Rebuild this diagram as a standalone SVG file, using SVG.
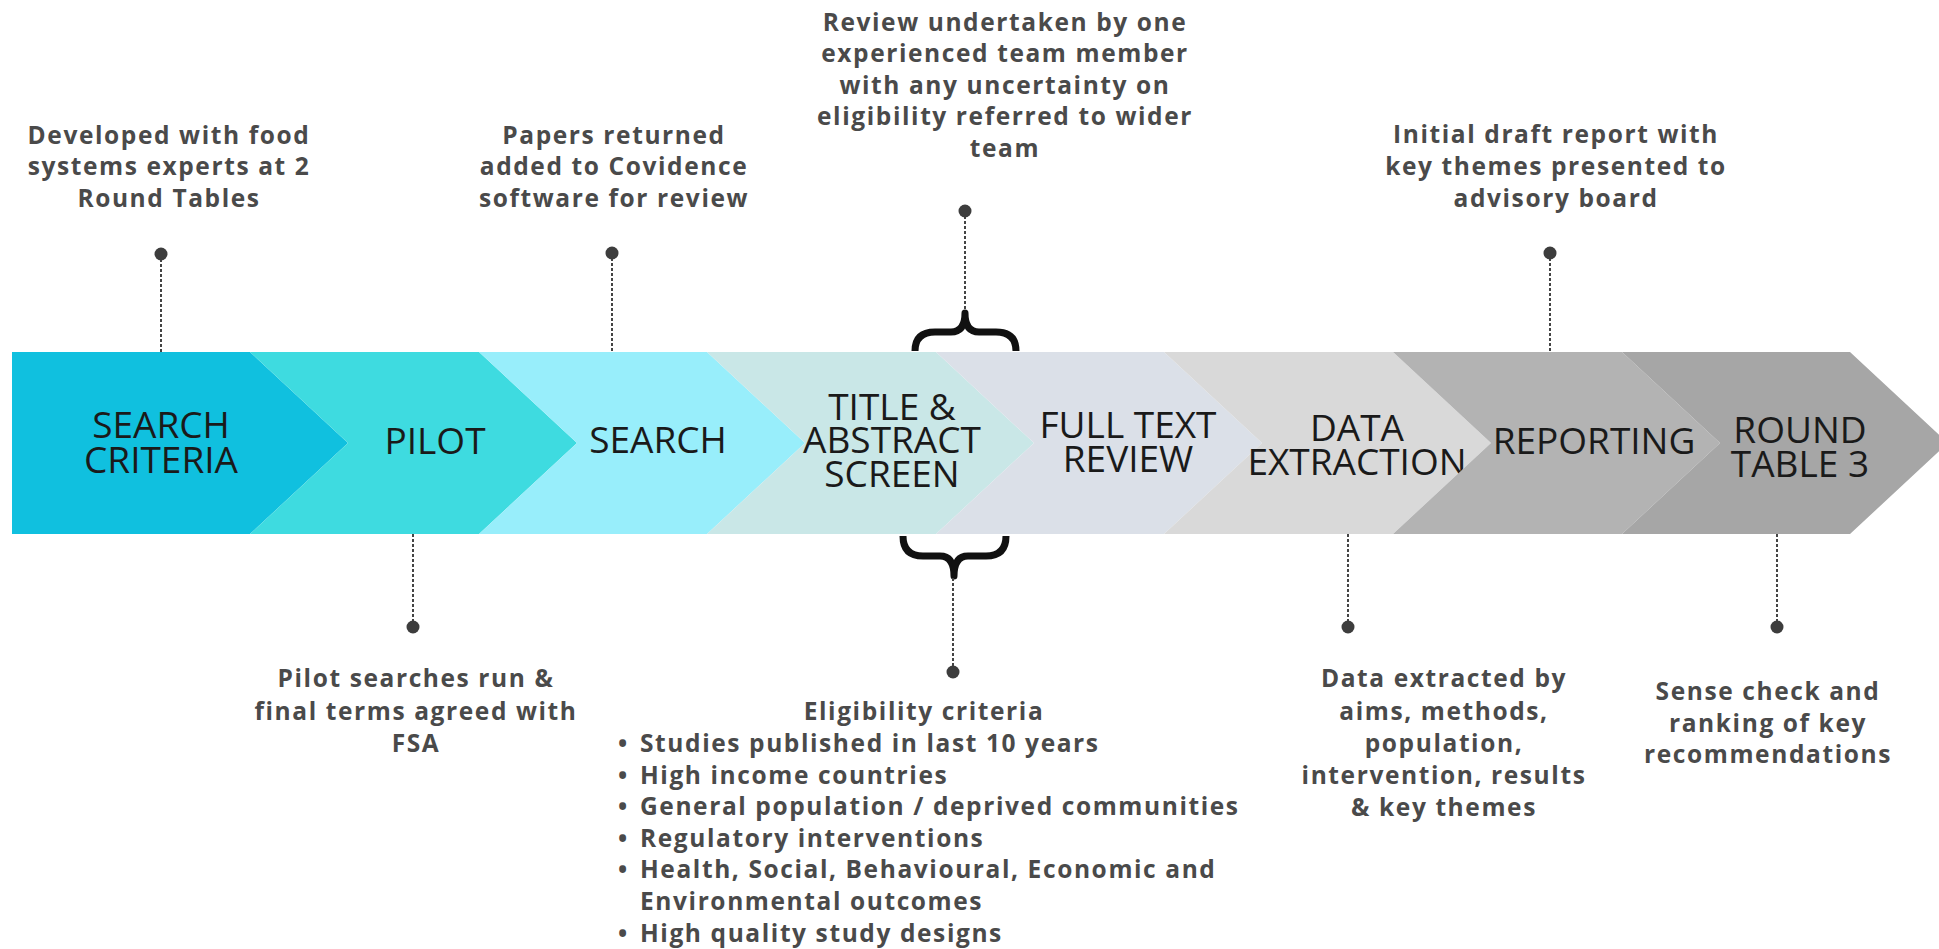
<svg xmlns="http://www.w3.org/2000/svg" width="1939" height="949" viewBox="0 0 1939 949">
<style>
.lbl{font-family:"Open Sans","Liberation Sans",sans-serif;font-size:37px;fill:#1a1a1a;text-anchor:middle}
.ann{font-family:"Open Sans","Liberation Sans",sans-serif;font-size:24.5px;font-weight:700;fill:#4a4a4a;text-anchor:middle;letter-spacing:1.6px}
.bul{font-family:"Open Sans","Liberation Sans",sans-serif;font-size:24.5px;font-weight:700;fill:#4a4a4a;letter-spacing:1.6px}
.dot{fill:#3d3d3d}
.lead{stroke:#444;stroke-width:2;stroke-dasharray:3 2;fill:none}
.brace{stroke:#111;stroke-width:7;fill:none;stroke-linejoin:round}
</style>
<rect width="1939" height="949" fill="#fff"/>
<g id="node-search-criteria">
<polygon points="12,352 250,352 348,443 250,534 12,534" fill="#10c0df"/>
<text class="lbl" x="161" y="438">SEARCH</text>
<text class="lbl" x="161" y="473">CRITERIA</text>
</g>
<g id="node-pilot">
<polygon points="250,352 479,352 577,443 479,534 250,534 348,443" fill="#3edbe0"/>
<text class="lbl" x="435" y="454">PILOT</text>
</g>
<g id="node-search">
<polygon points="479,352 707,352 805,443 707,534 479,534 577,443" fill="#98eefb"/>
<text class="lbl" x="658" y="453">SEARCH</text>
</g>
<g id="node-title-abstract">
<polygon points="707,352 936,352 1034,443 936,534 707,534 805,443" fill="#c9e7e7"/>
<text class="lbl" x="892" y="420">TITLE &amp;</text>
<text class="lbl" x="892" y="453">ABSTRACT</text>
<text class="lbl" x="892" y="487">SCREEN</text>
</g>
<g id="node-full-text">
<polygon points="936,352 1164,352 1262,443 1164,534 936,534 1034,443" fill="#dbe0e8"/>
<text class="lbl" x="1128" y="438">FULL TEXT</text>
<text class="lbl" x="1128" y="472">REVIEW</text>
</g>
<g id="node-data-extraction">
<polygon points="1164,352 1393,352 1491,443 1393,534 1164,534 1262,443" fill="#d9d9d9"/>
<text class="lbl" x="1357" y="441">DATA</text>
<text class="lbl" x="1357" y="475">EXTRACTION</text>
</g>
<g id="node-reporting">
<polygon points="1393,352 1622,352 1720,443 1622,534 1393,534 1491,443" fill="#b3b3b3"/>
<text class="lbl" x="1594" y="454">REPORTING</text>
</g>
<g id="node-round-table-3">
<polygon points="1622,352 1850,352 1948,443 1850,534 1622,534 1720,443" fill="#a6a6a6"/>
<text class="lbl" x="1800" y="443">ROUND</text>
<text class="lbl" x="1800" y="477">TABLE 3</text>
</g>
<g id="connectors">
<line class="lead" x1="161" y1="254" x2="161" y2="352"/>
<circle class="dot" cx="161" cy="254" r="6.5"/>
<line class="lead" x1="612" y1="253" x2="612" y2="352"/>
<circle class="dot" cx="612" cy="253" r="6.5"/>
<line class="lead" x1="965" y1="211" x2="965" y2="310"/>
<circle class="dot" cx="965" cy="211" r="6.5"/>
<path class="brace" d="M915 351 Q915 332 935 332 L951 332 Q965 332 965 313 Q965 332 979 332 L996 332 Q1016 332 1016 351"/>
<line class="lead" x1="1550" y1="253" x2="1550" y2="352"/>
<circle class="dot" cx="1550" cy="253" r="6.5"/>
<line class="lead" x1="413" y1="534" x2="413" y2="627"/>
<circle class="dot" cx="413" cy="627" r="6.5"/>
<path class="brace" d="M903 536 Q903 556 923 556 L940 556 Q954 556 954 576 Q954 556 968 556 L986 556 Q1006 556 1006 536"/>
<line class="lead" x1="953" y1="578" x2="953" y2="672"/>
<circle class="dot" cx="953" cy="672" r="6.5"/>
<line class="lead" x1="1348" y1="534" x2="1348" y2="627"/>
<circle class="dot" cx="1348" cy="627" r="6.5"/>
<line class="lead" x1="1777" y1="534" x2="1777" y2="627"/>
<circle class="dot" cx="1777" cy="627" r="6.5"/>
</g>
<g id="note-developed">
<text class="ann" x="169" y="144">Developed with food</text>
<text class="ann" x="169" y="175">systems experts at 2</text>
<text class="ann" x="169" y="207">Round Tables</text>
</g>
<g id="note-papers">
<text class="ann" x="614" y="144">Papers returned</text>
<text class="ann" x="614" y="175">added to Covidence</text>
<text class="ann" x="614" y="207">software for review</text>
</g>
<g id="note-review">
<text class="ann" x="1005" y="31">Review undertaken by one</text>
<text class="ann" x="1005" y="62">experienced team member</text>
<text class="ann" x="1005" y="94">with any uncertainty on</text>
<text class="ann" x="1005" y="125">eligibility referred to wider</text>
<text class="ann" x="1005" y="157">team</text>
</g>
<g id="note-draft">
<text class="ann" x="1556" y="143">Initial draft report with</text>
<text class="ann" x="1556" y="175">key themes presented to</text>
<text class="ann" x="1556" y="207">advisory board</text>
</g>
<g id="note-pilot">
<text class="ann" x="416" y="687">Pilot searches run &amp;</text>
<text class="ann" x="416" y="720">final terms agreed with</text>
<text class="ann" x="416" y="752">FSA</text>
</g>
<g id="note-eligibility">
<text class="ann" x="924" y="720">Eligibility criteria</text>
<text class="bul" x="618" y="752">•</text><text class="bul" x="640" y="752">Studies published in last 10 years</text>
<text class="bul" x="618" y="784">•</text><text class="bul" x="640" y="784">High income countries</text>
<text class="bul" x="618" y="815">•</text><text class="bul" x="640" y="815">General population / deprived communities</text>
<text class="bul" x="618" y="847">•</text><text class="bul" x="640" y="847">Regulatory interventions</text>
<text class="bul" x="618" y="878">•</text><text class="bul" x="640" y="878">Health, Social, Behavioural, Economic and</text>
<text class="bul" x="640" y="910">Environmental outcomes</text>
<text class="bul" x="618" y="942">•</text><text class="bul" x="640" y="942">High quality study designs</text>
</g>
<g id="note-data">
<text class="ann" x="1444" y="687">Data extracted by</text>
<text class="ann" x="1444" y="720">aims, methods,</text>
<text class="ann" x="1444" y="752">population,</text>
<text class="ann" x="1444" y="784">intervention, results</text>
<text class="ann" x="1444" y="816">&amp; key themes</text>
</g>
<g id="note-sense">
<text class="ann" x="1768" y="700">Sense check and</text>
<text class="ann" x="1768" y="732">ranking of key</text>
<text class="ann" x="1768" y="763">recommendations</text>
</g>
</svg>
